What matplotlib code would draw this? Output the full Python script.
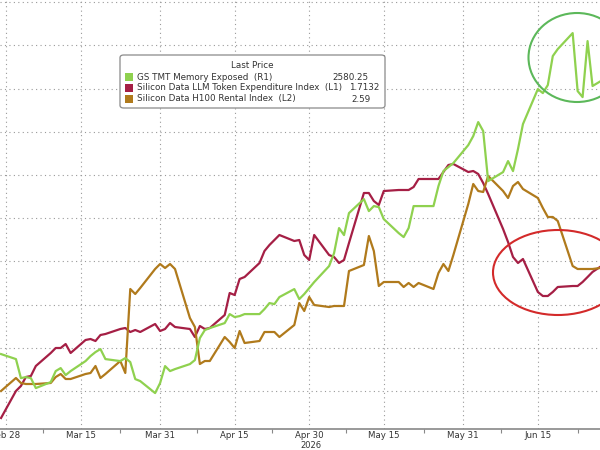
import matplotlib
matplotlib.use("Agg")
import matplotlib.pyplot as plt
import numpy as np
import pandas as pd
from matplotlib.patches import Ellipse, FancyBboxPatch, Rectangle

# business days shown on the chart (last one runs just past the right edge)
dates = pd.bdate_range("2026-02-27", "2026-06-29")

# GS TMT Memory Exposed (R1)
gs_tmt_memory = [
    1776,
    1761, 1704, 1707, 1704, 1674,
    1692, 1725, 1734, 1713, 1725,
    1755, 1770, 1782, 1791, 1761,
    1755, 1764, 1752, 1701, 1695,
    1659, 1689, 1740, 1725, 1731,
    1746, 1758, 1824, 1848, 1854,
    1869, 1896, 1887, 1890, 1896,
    1896, 1911, 1929, 1926, 1947,
    1971, 1941, 1956, 1974, 1992,
    2040, 2079, 2154, 2133, 2199,
    2241, 2205, 2220, 2217, 2181,
    2139, 2127, 2154, 2220, 2220,
    2220, 2280, 2325, 2337, 2349,
    2403, 2430, 2472, 2445, 2295,
    2322, 2355, 2325, 2391, 2466,
    2571, 2559, 2583, 2670, 2691,
    2739, 2565, 2547, 2715, 2580.25,
    2607,
]

# Silicon Data LLM Token Expenditure Index (L1)
llm_token_index = [
    1.129,
    1.237, 1.257, 1.293, 1.297, 1.337,
    1.389, 1.409, 1.409, 1.425, 1.389,
    1.441, 1.445, 1.437, 1.461, 1.465,
    1.485, 1.489, 1.473, 1.481, 1.473,
    1.505, 1.477, 1.485, 1.509, 1.493,
    1.485, 1.453, 1.497, 1.485, 1.489,
    1.541, 1.629, 1.621, 1.685, 1.693,
    1.749, 1.797, 1.821, 1.841, 1.861,
    1.837, 1.841, 1.781, 1.761, 1.861,
    1.781, 1.773, 1.749, 1.761, 1.829,
    2.029, 2.029, 1.997, 1.981, 2.037,
    2.041, 2.041, 2.041, 2.053, 2.085,
    2.085, 2.085, 2.113, 2.141, 2.145,
    2.113, 2.117, 2.105, 2.069, 2.025,
    1.885, 1.833, 1.773, 1.749, 1.765,
    1.633, 1.617, 1.617, 1.633, 1.653,
    1.657, 1.657, 1.673, 1.693, 1.7132,
    1.753,
]

# Silicon Data H100 Rental Index (L2)
h100_rental = [
    2.346,
    2.372, 2.362, 2.360, 2.360, 2.360,
    2.362, 2.374, 2.380, 2.370, 2.370,
    2.380, 2.382, 2.396, 2.372, 2.380,
    2.406, 2.382, 2.550, 2.540, 2.552,
    2.590, 2.600, 2.592, 2.600, 2.590,
    2.492, 2.474, 2.400, 2.406, 2.406,
    2.454, 2.444, 2.432, 2.466, 2.442,
    2.446, 2.464, 2.464, 2.464, 2.454,
    2.478, 2.522, 2.506, 2.534, 2.518,
    2.514, 2.516, 2.516, 2.516, 2.586,
    2.598, 2.656, 2.626, 2.556, 2.564,
    2.564, 2.554, 2.562, 2.554, 2.562,
    2.550, 2.582, 2.600, 2.586, 2.618,
    2.720, 2.760, 2.746, 2.744, 2.776,
    2.746, 2.732, 2.756, 2.764, 2.750,
    2.732, 2.712, 2.694, 2.694, 2.686,
    2.596, 2.590, 2.590, 2.590, 2.590,
    2.594,
]

tick_dates = ["2026-02-28", "2026-03-15", "2026-03-31", "2026-04-15",
              "2026-04-30", "2026-05-15", "2026-05-31", "2026-06-15"]
tick_labels = ["Feb 28", "Mar 15", "Mar 31", "Apr 15",
               "Apr 30", "May 15", "May 31", "Jun 15"]

legend_names = ["GS TMT Memory Exposed  (R1)",
                "Silicon Data LLM Token Expenditure Index  (L1)",
                "Silicon Data H100 Rental Index  (L2)"]
legend_values = ["2580.25", "1.7132", "2.59"]

GREEN = "#8fd14f"
RED = "#a51f45"
BROWN = "#b07a1c"
TEXT = "#333333"

W, H = 600, 450
AXIS_Y = 429  # pixel row of the x axis line

fig = plt.figure(figsize=(W / 100, H / 100), dpi=100)
fig.patch.set_facecolor("white")
ax = fig.add_axes([0, (H - AXIS_Y) / H, 1, AXIS_Y / H])
ax_brown = ax.twinx()
ax_green = ax.twinx()

ax.plot(dates, llm_token_index, color=RED, lw=1.6, zorder=3)
ax_brown.plot(dates, h100_rental, color=BROWN, lw=1.6)
ax_green.plot(dates, gs_tmt_memory, color=GREEN, lw=1.6)

# scales chosen so the three series sit where they do in the source
ax.set_ylim(1.085, 1.085 + 0.004 * AXIS_Y)
ax_brown.set_ylim(2.27, 2.27 + 0.002 * AXIS_Y)
ax_green.set_ylim(1551.25, 1551.25 + 3 * AXIS_Y)

x0 = pd.Timestamp("2026-02-26 19:00")
x1 = pd.Timestamp("2026-06-27 12:00")
for a in (ax, ax_brown, ax_green):
    a.set_xlim(x0, x1)
    for side in ("left", "right", "top", "bottom"):
        a.spines[side].set_visible(False)
    a.tick_params(axis="y", left=False, right=False, labelleft=False, labelright=False)
ax_brown.set_facecolor("none")
ax_green.set_facecolor("none")

# dotted grid
lo, hi = ax.get_ylim()
grid_px = 38 + 43.2 * np.arange(10)
ax.set_yticks(lo + (hi - lo) * grid_px / AXIS_Y)
ax.set_xticks(pd.to_datetime(tick_dates))
ax.set_xticklabels(tick_labels)
ax.grid(True, color="#9a9a9a", linestyle=(0, (1, 3)), linewidth=0.8)
ax.set_axisbelow(True)

mids = pd.to_datetime(tick_dates)
mids = mids[:-1] + (mids[1:] - mids[:-1]) / 2
ax.set_xticks(list(mids) + [pd.Timestamp("2026-06-23")], minor=True)
ax.tick_params(axis="x", which="major", length=0, pad=1.5, labelsize=6.2, labelcolor=TEXT)
ax.tick_params(axis="x", which="minor", length=3, width=0.8, color="#888888", direction="out")
ax.spines["bottom"].set_visible(True)
ax.spines["bottom"].set_color("#888888")
ax.spines["bottom"].set_linewidth(1.2)

fig.text(311 / W, 1 - 449.5 / H, "2026", fontsize=6.0, color=TEXT, ha="center", va="bottom")

# annotation ellipses
fig.patches.append(Ellipse((577 / W, 1 - 57.5 / H), 97 / W, 89 / H, transform=fig.transFigure,
                           fill=False, edgecolor="#5cb85a", lw=1.5))
fig.patches.append(Ellipse((558 / W, 1 - 272.5 / H), 130 / W, 85 / H, transform=fig.transFigure,
                           fill=False, edgecolor="#d32a2a", lw=1.5))

# legend box
fig.patches.append(FancyBboxPatch((120 / W, 1 - 108 / H), 265 / W, 53 / H,
                                  boxstyle="round,pad=0,rounding_size=0.006",
                                  transform=fig.transFigure, facecolor="white",
                                  edgecolor="#8a8a8a", lw=0.9, zorder=5))
fig.text(252 / W, 1 - 66 / H, "Last Price", fontsize=6.3, color=TEXT, ha="center", va="center", zorder=6)
row_y = [77, 88, 99]
value_right = [369, 379, 371]
for name, value, color, y, xr in zip(legend_names, legend_values, [GREEN, RED, BROWN], row_y, value_right):
    fig.patches.append(Rectangle((125 / W, 1 - (y + 4) / H), 8 / W, 8 / H, transform=fig.transFigure,
                                 facecolor=color, edgecolor="none", zorder=6))
    fig.text(137 / W, 1 - y / H, name, fontsize=6.3, color=TEXT, ha="left", va="center", zorder=6)
    fig.text(xr / W, 1 - y / H, value, fontsize=6.3, color=TEXT, ha="right", va="center", zorder=6)

fig.savefig("out.png", dpi=100, facecolor="white")
